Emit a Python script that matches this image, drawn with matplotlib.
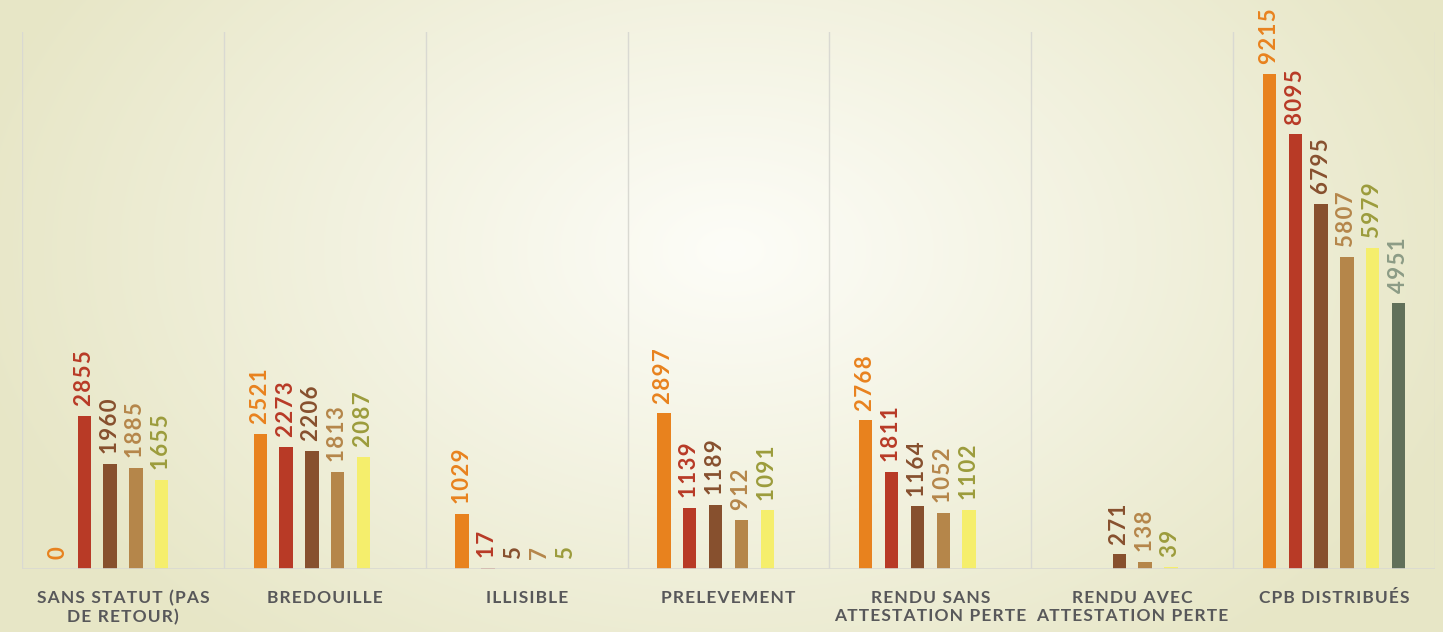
import numpy as np
import matplotlib.pyplot as plt

categories = ["SANS STATUT (PAS\nDE RETOUR)", "BREDOUILLE", "ILLISIBLE", "PRELEVEMENT",
              "RENDU SANS\nATTESTATION PERTE", "RENDU AVEC\nATTESTATION PERTE", "CPB DISTRIBUÉS"]
nan = np.nan
serie_1 = [0, 2521, 1029, 2897, 2768, nan, 9215]
serie_2 = [2855, 2273, 17, 1139, 1811, nan, 8095]
serie_3 = [1960, 2206, 5, 1189, 1164, 271, 6795]
serie_4 = [1885, 1813, 7, 912, 1052, 138, 5807]
serie_5 = [1655, 2087, 5, 1091, 1102, 39, 5979]
serie_6 = [nan, nan, nan, nan, nan, nan, 4951]

series = [serie_1, serie_2, serie_3, serie_4, serie_5, serie_6]
bar_colors = ["#E8821E", "#B83A26", "#87502E", "#B5864A", "#F5EE6C", "#61705A"]
text_colors = ["#E8821E", "#B83A26", "#87502E", "#B5864A", "#9C9C3C", "#8C9C86"]


def spaced(s, sp="\u200a"):
    # fake letter spacing
    return "\n".join(sp.join(line) for line in s.split("\n"))


W, H = 1443, 632
fig = plt.figure(figsize=(W / 100, H / 100), dpi=100)

# radial gradient background
bg = fig.add_axes([0, 0, 1, 1])
yy, xx = np.mgrid[0:H, 0:W]
r = np.sqrt(((xx - 730) / 780.0) ** 2 + ((yy - 250) / 520.0) ** 2)
r = np.clip(r, 0, 1)
c0 = np.array([253, 253, 248]) / 255
c1 = np.array([231, 230, 198]) / 255
img = c0[None, None, :] * (1 - r[..., None]) + c1[None, None, :] * r[..., None]
bg.imshow(img, aspect="auto", extent=[0, W, H, 0])
bg.axis("off")

left, right, base, top = 22, 1435, 569, 32
ax = fig.add_axes([left / W, (H - base) / H, (right - left) / W, (base - top) / H])
ax.patch.set_alpha(0)

n = len(series)
x = np.arange(len(categories))
slot = 0.128
bw = 0.066
for i, (vals, bc, tc) in enumerate(zip(series, bar_colors, text_colors)):
    pos = x + (i - (n - 1) / 2) * slot
    ax.bar(pos, vals, width=bw, color=bc, zorder=3)
    for p, v in zip(pos, vals):
        if np.isnan(v):
            continue
        ax.annotate(spaced(f"{int(v)}"), (p, v), xytext=(0, 7),
                    textcoords="offset points", rotation=90, ha="center", va="bottom",
                    color=tc, fontsize=16, fontweight="bold",
                    family=["Lato", "DejaVu Sans"], annotation_clip=False)

ax.set_xlim(-0.5, len(categories) - 0.5)
ax.set_ylim(0, 10000)
for b in np.arange(-0.5, len(categories), 1):
    ax.axvline(b, color="#D9D9D2", lw=1, zorder=1)
ax.axhline(0, color="#D9D9D2", lw=1.2, zorder=4)
for s in ax.spines.values():
    s.set_visible(False)
ax.set_yticks([])
ax.set_xticks(x)
ax.set_xticklabels([spaced(c) for c in categories], fontsize=12.5, fontweight="bold",
                   color="#58585A", family=["Lato", "DejaVu Sans"], linespacing=1.2,
                   va="top")
ax.tick_params(axis="x", length=0, pad=15)

fig.savefig("out.png", dpi=100)
